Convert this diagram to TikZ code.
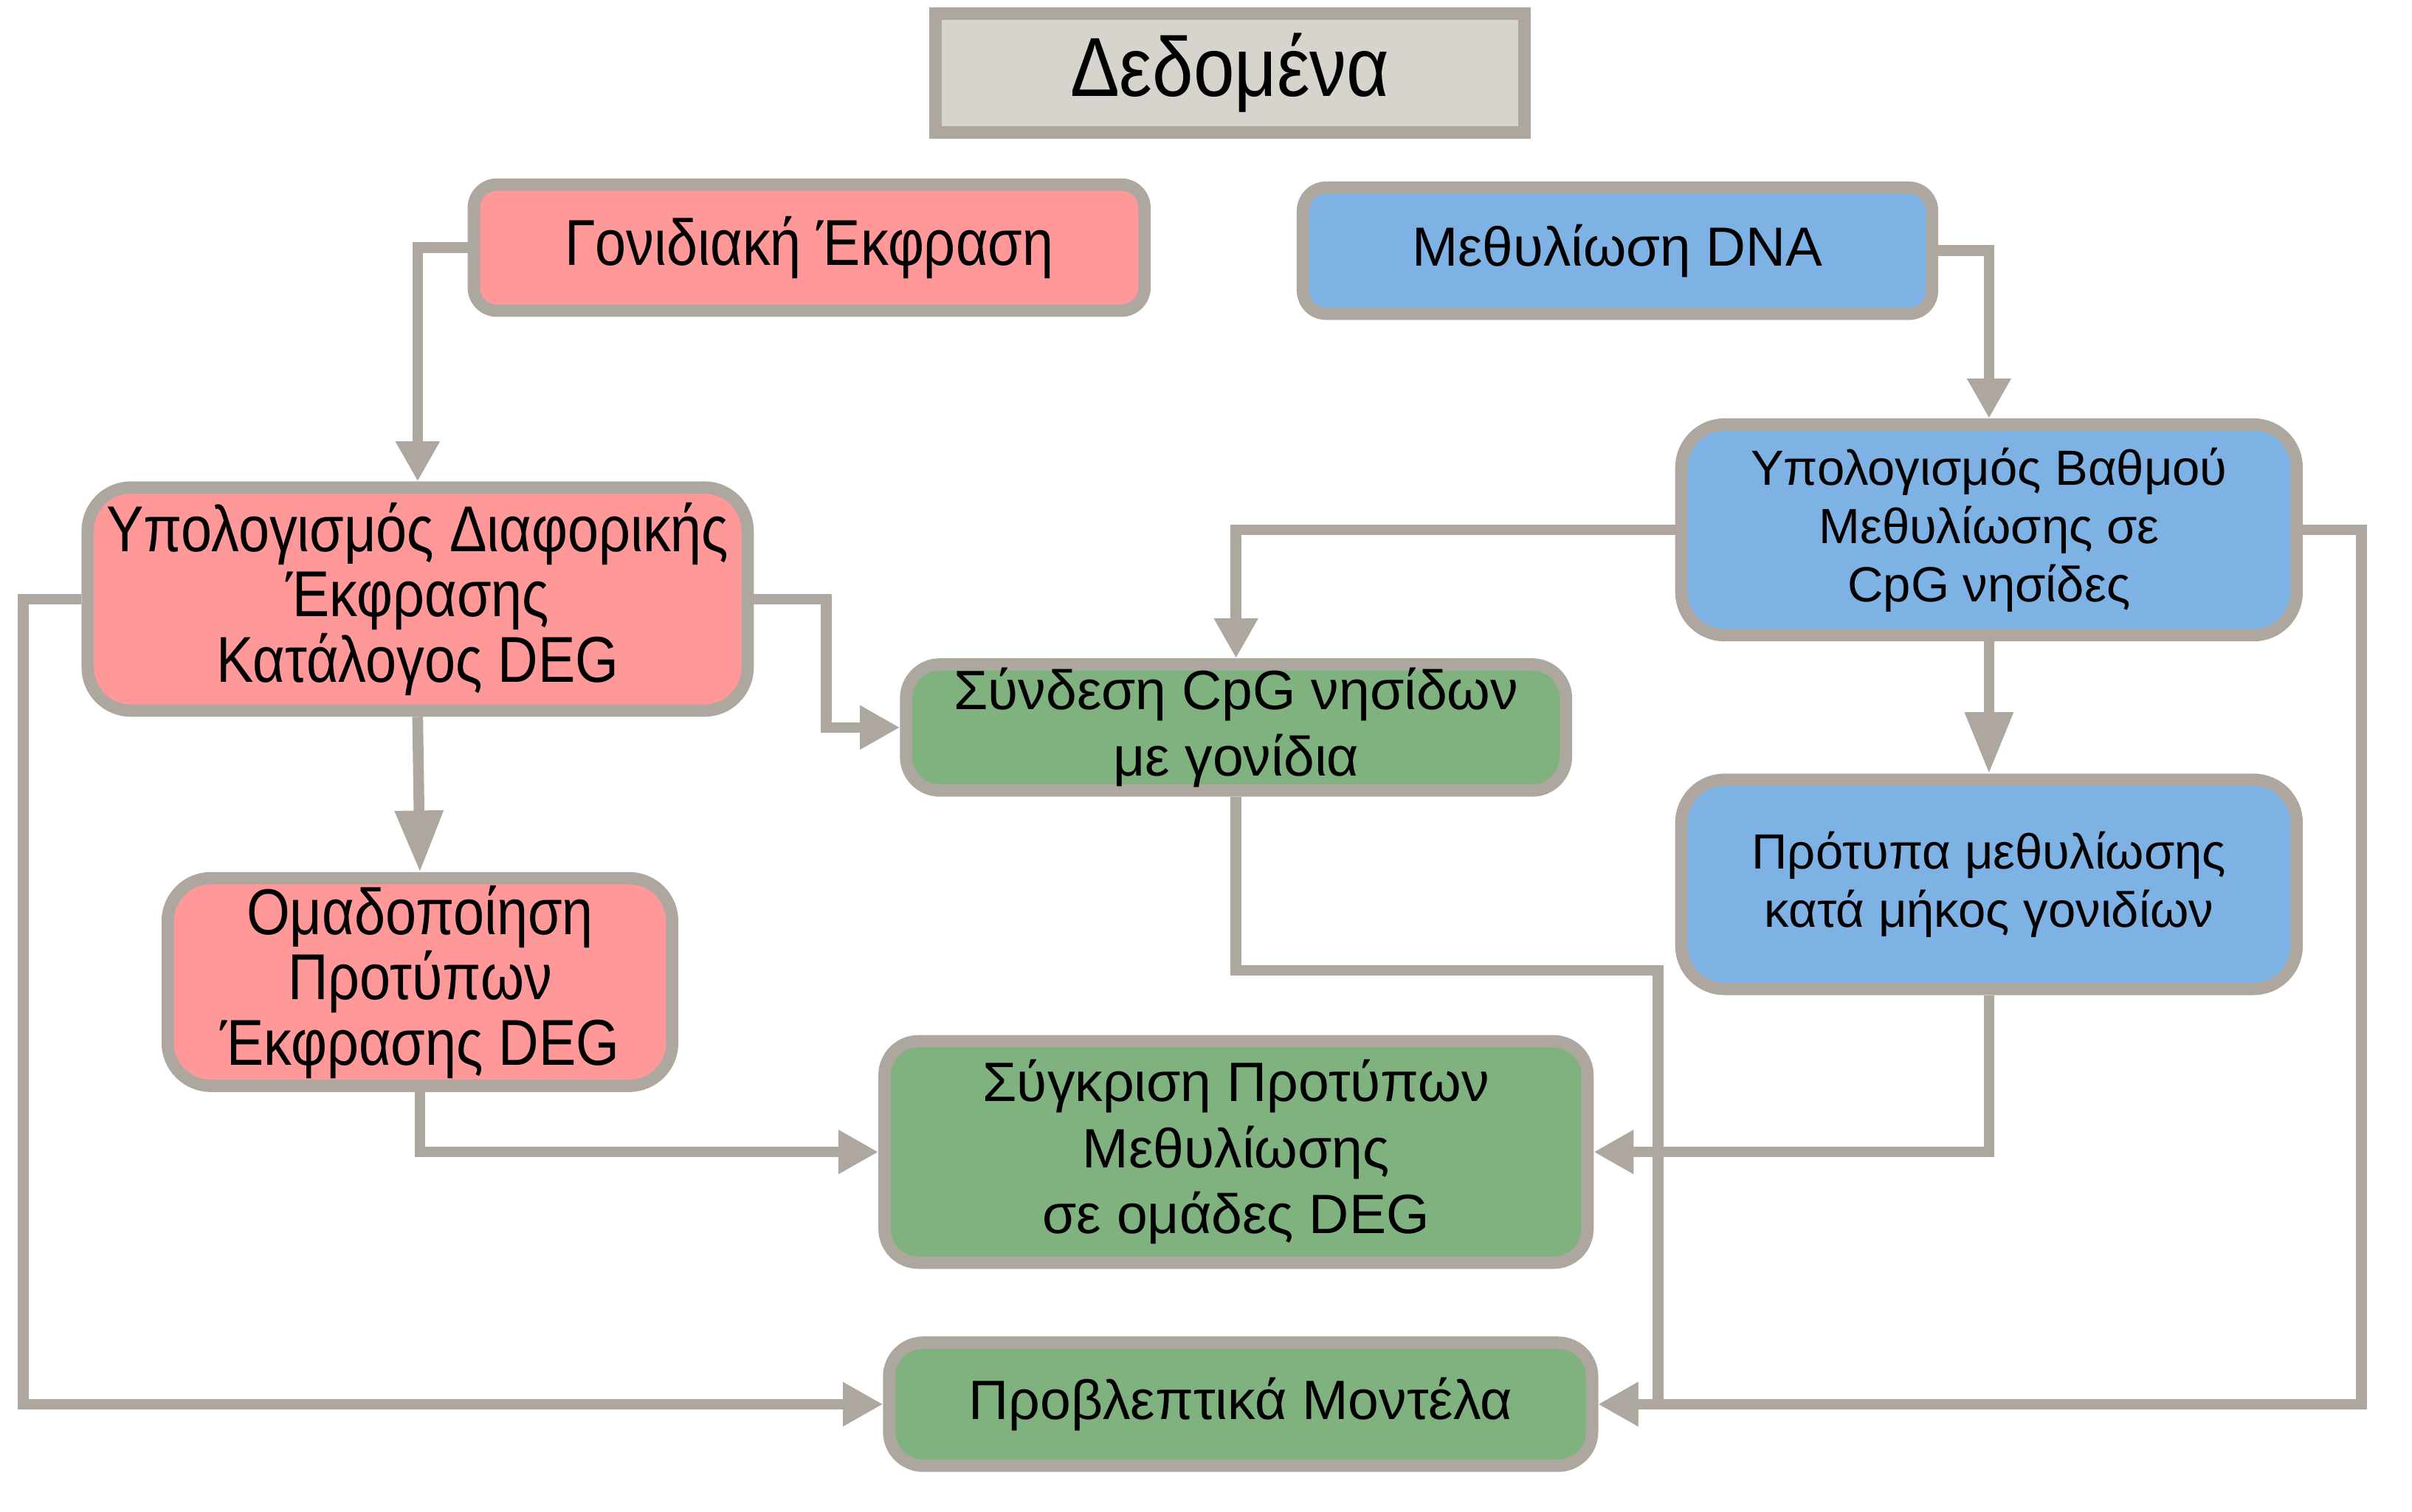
\documentclass[tikz,border=0pt]{standalone}
\usepackage{fontspec}
\setmainfont{Liberation Sans}
\newfontfamily\narrowfont[FakeStretch=0.86]{Liberation Sans}
\newfontfamily\titlefont[FakeStretch=0.88]{Liberation Sans}
\usetikzlibrary{arrows.meta, positioning, calc}
\definecolor{linegray}{RGB}{174,167,160}
\definecolor{exprpink}{RGB}{255,153,153}
\definecolor{methblue}{RGB}{126,178,228}
\definecolor{jointgreen}{RGB}{128,178,128}
\definecolor{datagray}{RGB}{215,212,206}

\begin{document}
\begin{tikzpicture}[
    font=\fontsize{10}{12}\selectfont,
    base/.style={draw=linegray, line width=0.08cm, align=center, inner xsep=2pt, inner ysep=0pt},
    expr/.style={base, rounded corners=0.28cm, fill=exprpink, font=\narrowfont\fontsize{12}{12.1}\selectfont},
    meth/.style={base, rounded corners=0.28cm, fill=methblue, font=\fontsize{9.15}{10.8}\selectfont},
    joint/.style={base, rounded corners=0.22cm, fill=jointgreen, font=\fontsize{10.25}{12.2}\selectfont},
    arr/.style={draw=linegray, line width=0.07cm, -{Triangle[length=0.26cm, width=0.27cm]}},
    bigarr/.style={arr, -{Triangle[length=0.4cm, width=0.3cm]}},
]
\useasboundingbox (0,0) rectangle (15.68,-9.83);

% --- Data (top) ---
\node[base, fill=datagray, minimum width=3.83cm, minimum height=0.77cm,
      font=\titlefont\fontsize{15.5}{16}\selectfont] (data) at (7.995,-0.475) {Δεδομένα};

% --- Two data sources ---
\node[expr, rounded corners=0.15cm, minimum width=4.36cm, minimum height=0.82cm] (gene) at (5.26,-1.61) {Γονιδιακή Έκφραση};
\node[meth, rounded corners=0.15cm, minimum width=4.09cm, minimum height=0.82cm,
      font=\fontsize{10.2}{12}\selectfont] (dna) at (10.515,-1.63) {Μεθυλίωση DNA};

% --- Expression branch (left) ---
\node[expr, minimum width=4.29cm, minimum height=1.45cm] (deg) at (2.715,-3.895) {Υπολογισμός Διαφορικής\\Έκφρασης\\Κατάλογος DEG};
\node[expr, below=1.01cm of deg, xshift=0.015cm, minimum width=3.28cm, minimum height=1.35cm] (clus) {Ομαδοποίηση\\Προτύπων\\Έκφρασης DEG};

% --- Methylation branch (right) ---
\node[meth, minimum width=4.00cm, minimum height=1.37cm] (cpg) at (12.93,-3.445) {Υπολογισμός Βαθμού\\Μεθυλίωσης σε\\CpG νησίδες};
\node[meth, below=0.86cm of cpg, minimum width=4.00cm, minimum height=1.36cm] (prof) {Πρότυπα μεθυλίωσης\\κατά μήκος γονιδίων};

% --- Joint analysis (middle) ---
\node[joint, minimum width=4.29cm, minimum height=0.82cm] (link) at (8.035,-4.73) {Σύνδεση CpG νησίδων\\με γονίδια};
\node[joint, below=1.55cm of link, minimum width=4.57cm, minimum height=1.44cm] (comp) {Σύγκριση Προτύπων\\Μεθυλίωσης\\σε ομάδες DEG};
\node[joint, below=0.44cm of comp, xshift=0.03cm, minimum width=4.57cm, minimum height=0.80cm] (pred) {Προβλεπτικά Μοντέλα};

% --- Sources -> first steps ---
\draw[arr] (gene.west) -| (deg.north);
\draw[arr] (dna.east) -| (cpg.north);

% --- Into the CpG/gene link ---
\draw[arr] (deg.east) -- ++(0.47,0) |- (link.west);
\draw[arr] (cpg.west) -| (link.north);

% --- Down each branch ---
\draw[bigarr] (deg.south) -- (clus.north);
\draw[bigarr] (cpg.south) -- (prof.north);

% --- Into the comparison ---
\draw[arr] (clus.south) |- (comp.west);
\draw[arr] (prof.south) |- (comp.east);

% --- Into the predictive models ---
\coordinate (merge) at ($(pred.east)+(0.39,0)$);
\draw[arr] (deg.west) -- ++(-0.38,0) |- (pred.west);
\draw[arr] (cpg.east) -- ++(0.38,0) |- (pred.east);
\draw[arr] (link.south) -- ++(0,-1.13) -| (merge) -- (pred.east);

\end{tikzpicture}
\end{document}
